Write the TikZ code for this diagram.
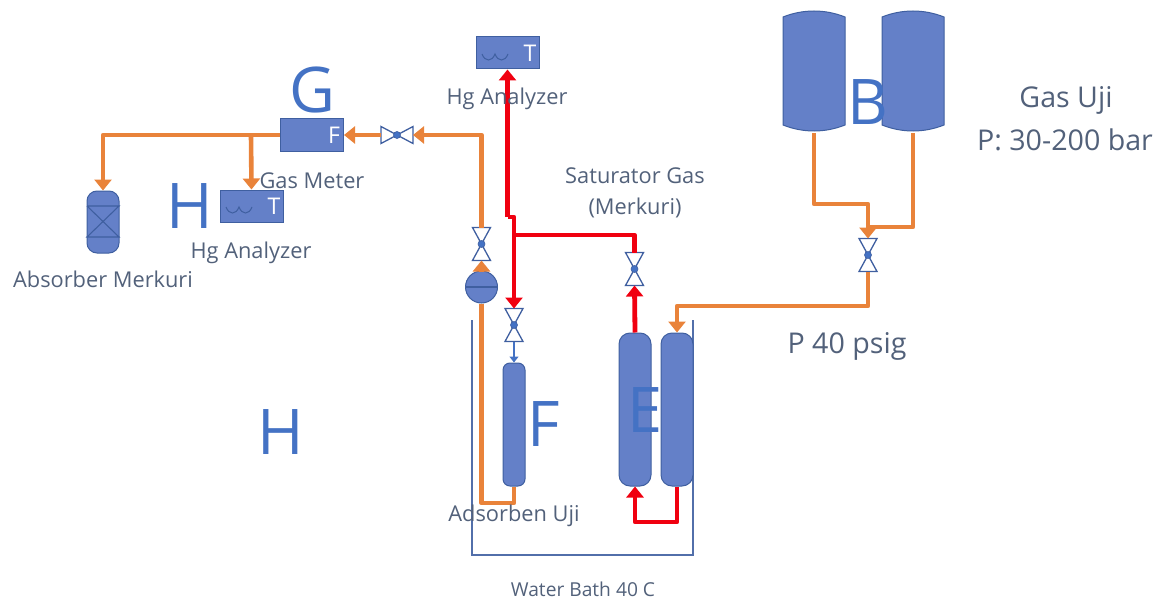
\documentclass[tikz,border=0pt]{standalone}
\usepackage{fontspec}
\setmainfont{Open Sans}
\usetikzlibrary{arrows.meta}
\definecolor{vfill}{HTML}{6480C8}
\definecolor{vedge}{HTML}{3F5FA0}
\definecolor{pipeO}{HTML}{E9833A}
\definecolor{pipeR}{HTML}{F00010}
\definecolor{lab}{HTML}{52617A}
\definecolor{big}{HTML}{4472C4}
\tikzset{
  vessel/.style={draw=vedge,fill=vfill,line width=1pt,rounded corners=7pt,inner sep=0pt},
  instr/.style={draw=vedge,fill=vfill,line width=1pt,inner sep=0pt,minimum width=63pt,minimum height=32pt},
  ghost/.style={inner sep=0pt,outer sep=0pt},
  orange pipe/.style={draw=pipeO,line width=4.6pt,line join=round},
  red pipe/.style={draw=pipeR,line width=4.8pt,line join=round},
  flow/.style={-{Triangle[length=11pt,width=17pt]}},
  label text/.style={text=lab,font=\fontsize{21.8}{26}\selectfont,inner sep=0pt,align=center},
  small text/.style={text=lab,font=\fontsize{19.2}{23}\selectfont,inner sep=0pt,align=center},
  side text/.style={text=lab,font=\fontsize{28.6}{34}\selectfont,inner sep=0pt,align=center},
  big letter/.style={text=big,font=\fontsize{63}{70}\selectfont,inner sep=0pt},
  white letter/.style={text=white,font=\fontsize{23}{26}\selectfont,inner sep=0pt},
  valve line/.style={draw=vedge,line width=1.3pt,fill=white},
  hub/.style={fill=big,draw=vedge,line width=.6pt}
}
% vertical valve: name, x, y
\newcommand{\vvalve}[3]{%
  \node[ghost,minimum width=18pt,minimum height=33pt] (#1) at (#2,#3) {};
  \draw[valve line] (#1.north west) -- (#1.north east) -- (#1.south west) -- (#1.south east) -- cycle;
  \fill[hub] (#1.center) circle (3.5pt);
}
% horizontal valve: name, x, y
\newcommand{\hvalve}[3]{%
  \node[ghost,minimum width=32pt,minimum height=17pt] (#1) at (#2,#3) {};
  \draw[valve line] (#1.north west) -- (#1.south east) -- (#1.north east) -- (#1.south west) -- cycle;
  \fill[hub] (#1.center) circle (3.5pt);
}
% tank with domed ends: name, x
\newcommand{\domed}[2]{%
  \node[ghost,minimum width=62pt,minimum height=124pt] (#1) at (#2,71) {};
  \draw[draw=vedge,fill=vfill,line width=1pt]
    ([yshift=-8pt]#1.north west) .. controls ([xshift=20pt]#1.north west) and ([xshift=-20pt]#1.north east) .. ([yshift=-8pt]#1.north east)
    -- ([yshift=8pt]#1.south east) .. controls ([xshift=-20pt]#1.south east) and ([xshift=20pt]#1.south west) .. ([yshift=8pt]#1.south west) -- cycle;
}
\begin{document}
\begin{tikzpicture}[x=1pt,y=-1pt]
\useasboundingbox (0,0) rectangle (1169,599);

% water bath
\coordinate (wbA) at (472,320);
\coordinate (wbB) at (472,555);
\coordinate (wbC) at (693,555);
\coordinate (wbD) at (693,320);
\draw[draw=vedge!90,line width=1.4pt] (wbA) -- (wbB) -- (wbC) -- (wbD);

% equipment
\node[instr] (meter) at (312,135) {};
\node[instr] (anaH) at (251.5,206) {};
\node[instr] (anaT) at (507.5,53) {};
\node[vessel,minimum width=32pt,minimum height=62pt,rounded corners=10pt] (absorber) at (103,222) {};
\coordinate (abA) at (87,206); \coordinate (abB) at (119,206);
\coordinate (abC) at (87,237); \coordinate (abD) at (119,237);
\draw[draw=vedge,line width=1.1pt] (abA) -- (abB) -- (abC) -- (abD) -- (abA);
\node[vessel,minimum width=22pt,minimum height=123pt] (colF) at (514,424.5) {};
\node[vessel,minimum width=32pt,minimum height=153pt,rounded corners=11pt] (colE1) at (635,409.5) {};
\node[vessel,minimum width=32pt,minimum height=153pt,rounded corners=11pt] (colE2) at (677,409.5) {};
\domed{tankL}{814}
\domed{tankR}{913}
\node[draw=vedge,fill=vfill,line width=1pt,circle,minimum size=32pt,inner sep=0pt] (sep) at (481.5,287) {};
\draw[draw=vedge,line width=1.1pt] (sep.west) -- (sep.east);

% analyser wave symbols
\draw[draw=vedge,line width=1pt] (226,207) .. controls (229,215) and (236,215) .. (239,207) .. controls (242,215) and (249,215) .. (252,207);
\draw[draw=vedge,line width=1pt] (482,54) .. controls (485,62) and (492,62) .. (495,54) .. controls (498,62) and (505,62) .. (508,54);

% valves
\hvalve{vG}{397}{135}
\vvalve{vSep}{481.5}{244}
\vvalve{vF}{514}{325}
\vvalve{vE}{634.5}{269}
\vvalve{vB}{868}{255}

% orange pipes
\coordinate (oA) at (103,135);
\coordinate (oB) at (251,135);
\draw[orange pipe,flow] (meter.west) -- (oA) -- (absorber.north);
\draw[orange pipe,flow] (oB) -- (anaH.north);
\draw[orange pipe,flow] (vG.west) -- (meter.east);
\coordinate (oC) at (481.5,135);
\draw[orange pipe,flow] (vSep.north) -- (oC) -- (vG.east);
\draw[orange pipe,flow] (sep.north) -- (vSep.south);
\coordinate (oD) at (481.5,503);
\coordinate (oE) at (514,503);
\draw[orange pipe] (sep.south) -- (oD) -- (oE) -- (colF.south);
\coordinate (oF) at (814,204);
\coordinate (oG) at (868,204);
\coordinate (oH) at (913,227);
\coordinate (oI) at (868,227);
\draw[orange pipe,flow] (tankL.south) -- (oF) -- (oG) -- (vB.north);
\draw[orange pipe] (tankR.south) -- (oH) -- (oI);
\coordinate (oJ) at (868,306);
\coordinate (oK) at (677,306);
\draw[orange pipe,flow] (vB.south) -- (oJ) -- (oK) -- (colE2.north);

% thin blue link
\draw[draw=big,line width=1.3pt,-{Triangle[length=6pt,width=9pt]}] (vF.south) -- (colF.north);

% red pipes
\coordinate (rA) at (507.5,217);
\coordinate (rB) at (514,217);
\coordinate (rC) at (514,235);
\coordinate (rD) at (634.5,235);
\draw[red pipe,flow] (rA) -- (anaT.south);
\draw[red pipe,flow] (rA) -- (rB) -- (vF.north);
\draw[red pipe] (rC) -- (rD) -- (vE.north);
\draw[red pipe,flow] (colE1.north) -- (vE.south);
\coordinate (rE) at (677,522);
\coordinate (rF) at (635,522);
\draw[red pipe,flow] (colE2.south) -- (rE) -- (rF) -- (colE1.south);

% big letters
\node[big letter] (letG) at (312,90) {G};
\node[big letter] (letH1) at (190,206) {H};
\node[big letter] (letH2) at (281,432) {H};
\node[big letter] (letF) at (544,424) {F};
\node[big letter] (letE) at (645,410) {E};
\node[big letter] (letB) at (868,102) {B};

% white letters
\node[white letter] (wF) at (334,135) {F};
\node[white letter] (wT1) at (274,206) {T};
\node[white letter] (wT2) at (530,53) {T};

% labels
\node[label text] (l1) at (312,181) {Gas Meter};
\node[label text] (l2) at (251,253) {Hg Analyzer};
\node[label text] (l3) at (103,279) {Absorber Merkuri};
\node[label text] (l4) at (507,99) {Hg Analyzer};
\node[label text] (l5) at (635,176) {Saturator Gas};
\node[label text] (l6) at (635,208) {(Merkuri)};
\node[label text] (l7) at (514,516) {Adsorben Uji};
\node[small text] (l8) at (583,589) {Water Bath 40 C};
\node[side text] (l9) at (1066,100) {Gas Uji};
\node[side text] (l10) at (1065,140) {P: 30-200 bar};
\node[side text] (l11) at (847,346) {P 40 psig};
\end{tikzpicture}
\end{document}
